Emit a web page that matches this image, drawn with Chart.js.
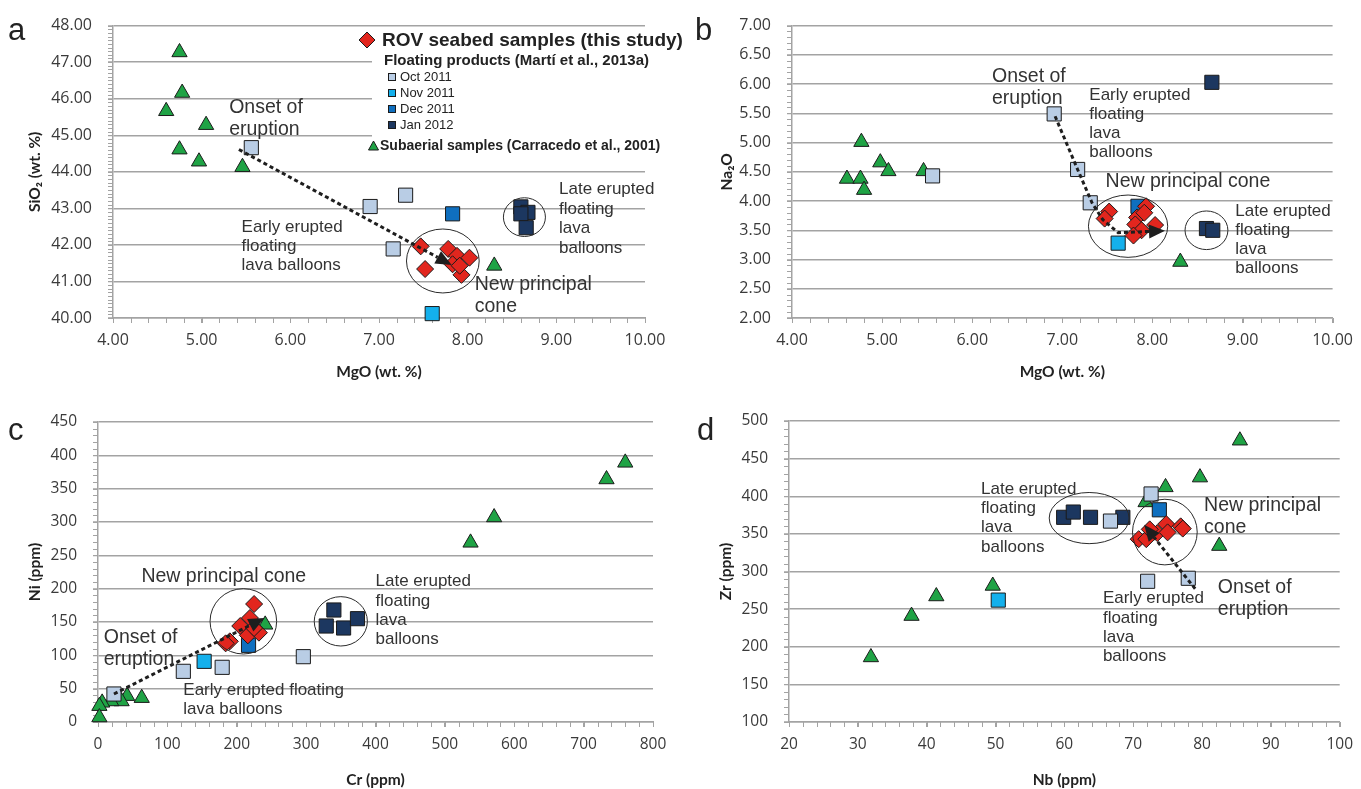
<!DOCTYPE html>
<html><head><meta charset="utf-8">
<script src="https://cdn.jsdelivr.net/npm/chart.js@4.4.1/dist/chart.umd.min.js"></script>
<style>
html,body{margin:0;padding:0;background:#fff;width:1361px;height:789px;overflow:hidden;}
.p{position:absolute;}
.p canvas{display:block;}
.letter{position:absolute;font-family:"Liberation Sans",Arial,sans-serif;font-size:31px;color:#222;line-height:1;}
</style></head><body>
<div class="p" style="left:0;top:0"><canvas id="ca" width="690" height="390"></canvas></div>
<div class="p" style="left:690px;top:0"><canvas id="cb" width="671" height="390"></canvas></div>
<div class="p" style="left:0;top:390px"><canvas id="cc" width="690" height="399"></canvas></div>
<div class="p" style="left:690px;top:390px"><canvas id="cd" width="671" height="399"></canvas></div>
<div class="letter" style="left:8px;top:14px">a</div>
<div class="letter" style="left:695px;top:14px">b</div>
<div class="letter" style="left:8px;top:414px">c</div>
<div class="letter" style="left:697px;top:414px">d</div>
<script>
// ---------- DATA ----------
// Series names
const seriesNames = ['ROV seabed samples (this study)','Oct 2011','Nov 2011','Dec 2011','Jan 2012','Subaerial samples (Carracedo et al., 2001)'];

// Panel a : MgO (x) vs SiO2 (y)
const aRovX = [7.47,7.52,7.78,7.88,7.83,8.02,7.93,7.91];
const aRovY = [41.96,41.34,41.89,41.70,41.47,41.65,41.18,41.43];
const aOctX = [5.56,6.90,7.30,7.16];
const aOctY = [44.66,43.05,43.36,41.89];
const aNovX = [7.60];
const aNovY = [40.12];
const aDecX = [7.83];
const aDecY = [42.85];
const aJanX = [8.60,8.68,8.60,8.66];
const aJanY = [43.04,42.89,42.85,42.47];
const aSubX = [4.75,4.78,4.60,5.05,4.75,4.97,5.46,8.30];
const aSubY = [47.27,46.16,45.66,45.28,44.61,44.28,44.13,41.43];
const aXTicks = [4,5,6,7,8,9,10];
const aYTicks = [40,41,42,43,44,45,46,47,48];

// Panel b : MgO (x) vs Na2O (y)
const bRovX = [7.52,7.47,7.93,7.83,7.81,7.88,7.79,8.03,7.91];
const bRovY = [3.82,3.70,3.91,3.72,3.60,3.50,3.41,3.59,3.80];
const bOctX = [5.56,6.91,7.17,7.31];
const bOctY = [4.43,5.49,4.54,3.97];
const bNovX = [7.62];
const bNovY = [3.28];
const bDecX = [7.84];
const bDecY = [3.91];
const bJanX = [8.66,8.60,8.67];
const bJanY = [6.03,3.53,3.50];
const bSubX = [4.77,4.98,5.07,4.61,4.76,4.80,5.46,8.31];
const bSubY = [5.01,4.66,4.51,4.38,4.38,4.19,4.51,2.96];
const bXTicks = [4,5,6,7,8,9,10];
const bYTicks = [2,2.5,3,3.5,4,4.5,5,5.5,6,6.5,7];

// Panel c : Cr (x) vs Ni (y)
const cRovX = [225,219,205,216,232,190,184,225];
const cRovY = [177,156,144,130,134,121,118,141];
const cOctX = [23,123,179,296];
const cOctY = [42,76,82,98];
const cNovX = [153];
const cNovY = [91];
const cDecX = [217];
const cDecY = [115];
const cJanX = [340,329,354,374];
const cJanY = [168,144,141,155];
const cSubX = [760,733,571,537,241,63,42,34,19,6,2,2];
const cSubY = [389,364,307,269,146,36,39,31,31,29,24,7];
const cXTicks = [0,100,200,300,400,500,600,700,800];
const cYTicks = [0,50,100,150,200,250,300,350,400,450];

// Panel d : Nb (x) vs Zr (y)
const dRovX = [70.8,71.9,73.5,74.8,76.9,77.2,75.0,72.4];
const dRovY = [343,343,351,363,360,357,352,356];
const dOctX = [72.6,66.7,72.1,78.0];
const dOctY = [403,367,287,291];
const dNovX = [50.4];
const dNovY = [262];
const dDecX = [73.8];
const dDecY = [382];
const dJanX = [59.9,61.3,63.8,68.5];
const dJanY = [372,379,372,372];
const dSubX = [85.5,79.7,74.7,71.8,82.5,49.6,41.4,37.8,31.9];
const dSubY = [474,425,412,392,334,281,267,241,186];
const dXTicks = [20,30,40,50,60,70,80,90,100];
const dYTicks = [100,150,200,250,300,350,400,450,500];

// Trend arrows (data coordinates) and grouping ellipses [cx, cy, rx, ry]
const aArrow = [[5.42,44.61],[7.82,41.45]];
const bArrow = [[6.92,5.45],[7.17,4.54],[7.33,3.97],[7.45,3.68],[7.62,3.46],[8.14,3.49]];
const cArrow = [[23,42],[240,156]];
const dArrow = [[79.0,277],[71.6,362]];
const aEllipses = [[7.72,41.56,0.41,0.875],[8.64,42.76,0.237,0.53]];
const bEllipses = [[7.73,3.57,0.44,0.533],[8.60,3.50,0.238,0.33]];
const cEllipses = [[209.5,151,48,49],[350,151,38.3,37]];
const dEllipses = [[63.6,371,5.8,34],[74.6,352.4,4.7,43.6]];

// ---------- STYLE ----------
const RED='#e2261e', GREEN='#1fa345', OCT='#b9cde5', NOV='#14b0ec', DEC='#0f6fbf', JAN='#1c3760', EDGE='#1b1b1b';
const GRID='#a3a3a3', TICKC='#3a3a3a', TEXTC='#333333';
const SANS='"Liberation Sans", Arial, sans-serif';

function ds(label, xs, ys, style, color, r, order){
  return {label, data: xs.map((x,i)=>({x, y: ys[i]})), pointStyle: style,
    backgroundColor: color, borderColor: EDGE, borderWidth: 1, pointRadius: r,
    pointHoverRadius: r, order, clip: false};
}
function sets(rx,ry,ox,oy,nx,ny,dx,dy,jx,jy,sx,sy){
  return [
    ds(seriesNames[0], rx, ry, 'rectRot', RED, 8.5, 0),
    ds(seriesNames[1], ox, oy, 'rect', OCT, 10, 1),
    ds(seriesNames[2], nx, ny, 'rect', NOV, 10, 1),
    ds(seriesNames[3], dx, dy, 'rect', DEC, 10, 1),
    ds(seriesNames[4], jx, jy, 'rect', JAN, 10, 1),
    ds(seriesNames[5], sx, sy, 'triangle', GREEN, 8.8, 2)
  ];
}

function drawLegendA(ctx){
  ctx.fillStyle='#fff';
  ctx.fillRect(353,27,337,31);
  ctx.fillRect(372,58,318,98);
  // diamond
  ctx.beginPath(); ctx.moveTo(367,32); ctx.lineTo(375,40); ctx.lineTo(367,48); ctx.lineTo(359,40); ctx.closePath();
  ctx.fillStyle=RED; ctx.fill(); ctx.strokeStyle=EDGE; ctx.lineWidth=1; ctx.stroke();
  ctx.fillStyle='#222'; ctx.textBaseline='middle'; ctx.textAlign='left';
  ctx.font='bold 19px '+SANS; ctx.fillText(seriesNames[0], 382, 41);
  ctx.font='bold 15px '+SANS; ctx.fillText('Floating products (Martí et al., 2013a)', 384, 61);
  const items=[[OCT,76.5],[NOV,92.5],[DEC,108.5],[JAN,124.5]];
  ctx.font='13px '+SANS;
  items.forEach((it,i)=>{
    ctx.fillStyle=it[0]; ctx.fillRect(388.5,it[1]-3,7,7);
    ctx.strokeStyle=EDGE; ctx.strokeRect(388.5,it[1]-3,7,7);
    ctx.fillStyle='#222'; ctx.fillText(seriesNames[i+1], 400, it[1]+0.5);
  });
  // triangle
  ctx.beginPath(); ctx.moveTo(373.5,141); ctx.lineTo(378.5,150); ctx.lineTo(368.5,150); ctx.closePath();
  ctx.fillStyle=GREEN; ctx.fill(); ctx.strokeStyle=EDGE; ctx.stroke();
  ctx.fillStyle='#222'; ctx.font='bold 14px '+SANS; ctx.fillText(seriesNames[5], 380, 146);
}

const decor = {
  id:'decor',
  beforeDatasetsDraw(chart, args, o){
    const ctx=chart.ctx, xs=chart.scales.x, ys=chart.scales.y;
    ctx.save();
    ctx.strokeStyle=GRID; ctx.lineWidth=1;
    const nx=Math.round((xs.max-xs.min)/o.minorX);
    for(let i=0;i<=nx;i++){
      const x=Math.round(xs.getPixelForValue(xs.min+i*o.minorX))+0.5;
      ctx.beginPath(); ctx.moveTo(x, ys.bottom); ctx.lineTo(x, ys.bottom+5); ctx.stroke();
    }
    const ny=Math.round((ys.max-ys.min)/o.minorY);
    for(let i=0;i<=ny;i++){
      const y=Math.round(ys.getPixelForValue(ys.min+i*o.minorY))+0.5;
      ctx.beginPath(); ctx.moveTo(xs.left-5, y); ctx.lineTo(xs.left, y); ctx.stroke();
    }
    ctx.restore();
  },
  afterDatasetsDraw(chart, args, o){
    const ctx=chart.ctx, xs=chart.scales.x, ys=chart.scales.y;
    const px=v=>xs.getPixelForValue(v), py=v=>ys.getPixelForValue(v);
    ctx.save();
    // ellipses
    ctx.strokeStyle='#2a2a2a'; ctx.lineWidth=1;
    (o.ellipses||[]).forEach(e=>{
      const cx=px(e[0]), cy=py(e[1]);
      const rx=Math.abs(px(e[0]+e[2])-cx), ry=Math.abs(py(e[1]+e[3])-cy);
      ctx.beginPath(); ctx.ellipse(cx,cy,rx,ry,0,0,Math.PI*2); ctx.stroke();
    });
    // arrow
    if(o.arrow){
      const pts=o.arrow.map(p=>[px(p[0]),py(p[1])]);
      const n=pts.length, tip=pts[n-1], prev=pts[n-2];
      const ang=Math.atan2(tip[1]-prev[1], tip[0]-prev[0]);
      const L=16, W=7;
      const base=[tip[0]-L*Math.cos(ang), tip[1]-L*Math.sin(ang)];
      ctx.strokeStyle='#1e1e1e'; ctx.lineWidth=3; ctx.setLineDash([4,3]);
      ctx.beginPath(); ctx.moveTo(pts[0][0],pts[0][1]);
      for(let i=1;i<n-1;i++) ctx.lineTo(pts[i][0],pts[i][1]);
      ctx.lineTo(base[0],base[1]); ctx.stroke();
      ctx.setLineDash([]);
      ctx.fillStyle='#1e1e1e';
      ctx.beginPath(); ctx.moveTo(tip[0],tip[1]);
      ctx.lineTo(base[0]+W*Math.sin(ang), base[1]-W*Math.cos(ang));
      ctx.lineTo(base[0]-W*Math.sin(ang), base[1]+W*Math.cos(ang));
      ctx.closePath(); ctx.fill();
    }
    // notes
    ctx.fillStyle=TEXTC; ctx.textAlign='left'; ctx.textBaseline='middle';
    (o.notes||[]).forEach(nt=>{
      ctx.font=nt.size+'px '+SANS;
      nt.lines.forEach((t,i)=>ctx.fillText(t, px(nt.x), py(nt.y)+i*(nt.lh||0)));
    });
    if(o.legend) drawLegendA(ctx);
    ctx.restore();
  }
};

function makeChart(id, c){
  const tickFont={family:'"Open Sans", Lato, sans-serif', size:c.tickSize};
  const titleFont={family:'Lato, "Open Sans", sans-serif', size:15.5, weight:'bold'};
  return new Chart(document.getElementById(id), {
    type:'scatter',
    data:{datasets:c.datasets},
    options:{
      responsive:false, animation:false, devicePixelRatio:1, events:[],
      layout:{padding:c.pad},
      plugins:{legend:{display:false}, tooltip:{enabled:false}, decor:c.decor},
      scales:{
        x:{type:'linear', min:c.xTicks[0], max:c.xTicks[c.xTicks.length-1],
          afterBuildTicks:s=>{s.ticks=c.xTicks.map(v=>({value:v}));},
          afterFit:s=>{s.height=c.xH;},
          ticks:{callback:c.fmt, font:tickFont, color:TICKC, padding:8, maxRotation:0, autoSkip:false},
          grid:{drawOnChartArea:false, drawTicks:true, tickLength:5, tickColor:GRID, tickWidth:1},
          border:{display:true, color:GRID, width:1.5},
          title:{display:true, text:c.xTitle, font:titleFont, color:'#222', padding:{top:0,bottom:c.xTitlePad}}},
        y:{type:'linear', min:c.yTicks[0], max:c.yTicks[c.yTicks.length-1],
          afterBuildTicks:s=>{s.ticks=c.yTicks.map(v=>({value:v}));},
          afterFit:s=>{s.width=c.yW;},
          ticks:{callback:c.fmt, font:tickFont, color:TICKC, padding:16, autoSkip:false},
          grid:{color:GRID, lineWidth:1.5, drawTicks:true, tickLength:5, tickColor:GRID, tickWidth:1},
          border:{display:true, color:GRID, width:1.5},
          title:{display:true, text:c.yTitle, font:titleFont, color:'#222', padding:{top:c.yTitlePad,bottom:0}}}
      }
    },
    plugins:[decor]
  });
}
const fmt2=v=>Number(v).toFixed(2), fmt0=v=>String(v);

makeChart('ca',{
  datasets:sets(aRovX,aRovY,aOctX,aOctY,aNovX,aNovY,aDecX,aDecY,aJanX,aJanY,aSubX,aSubY),
  xTicks:aXTicks, yTicks:aYTicks, fmt:fmt2, tickSize:16, xTitle:'MgO (wt. %)', yTitle:'SiO₂ (wt. %)',
  pad:{top:16,right:45,bottom:0,left:0}, yW:113, xH:72, xTitlePad:9, yTitlePad:26,
  decor:{minorX:0.2, minorY:0.1, arrow:aArrow, ellipses:aEllipses, legend:true, notes:[
    {x:5.31,y:45.76,lines:['Onset of','eruption'],size:19.5,lh:21.7},
    {x:5.45,y:42.49,lines:['Early erupted','floating','lava balloons'],size:17,lh:19},
    {x:8.08,y:40.90,lines:['New principal','cone'],size:19.5,lh:21.7},
    {x:9.03,y:43.51,lines:['Late erupted','floating','lava','balloons'],size:17,lh:19.4}]}
});
makeChart('cb',{
  datasets:sets(bRovX,bRovY,bOctX,bOctY,bNovX,bNovY,bDecX,bDecY,bJanX,bJanY,bSubX,bSubY),
  xTicks:bXTicks, yTicks:bYTicks, fmt:fmt2, tickSize:16, xTitle:'MgO (wt. %)', yTitle:'Na₂O',
  pad:{top:16,right:25,bottom:0,left:0}, yW:102, xH:72, xTitlePad:9, yTitlePad:28,
  decor:{minorX:0.2, minorY:0.1, arrow:bArrow, ellipses:bEllipses, notes:[
    {x:6.22,y:6.13,lines:['Onset of','eruption'],size:19.5,lh:22},
    {x:7.30,y:5.80,lines:['Early erupted','floating','lava','balloons'],size:17,lh:19},
    {x:7.48,y:4.33,lines:['New principal cone'],size:19.5},
    {x:8.92,y:3.82,lines:['Late erupted','floating','lava','balloons'],size:17,lh:19}]}
});
makeChart('cc',{
  datasets:sets(cRovX,cRovY,cOctX,cOctY,cNovX,cNovY,cDecX,cDecY,cJanX,cJanY,cSubX,cSubY),
  xTicks:cXTicks, yTicks:cYTicks, fmt:fmt0, tickSize:15.5, xTitle:'Cr (ppm)', yTitle:'Ni (ppm)',
  pad:{top:32,right:37,bottom:0,left:0}, yW:98, xH:67, xTitlePad:0, yTitlePad:26,
  decor:{minorX:20, minorY:10, arrow:cArrow, ellipses:cEllipses, notes:[
    {x:62.6,y:218,lines:['New principal cone'],size:19.5},
    {x:400,y:210.6,lines:['Late erupted','floating','lava','balloons'],size:17,lh:19.4},
    {x:8.3,y:126.4,lines:['Onset of','eruption'],size:19.5,lh:21.8},
    {x:123,y:48,lines:['Early erupted floating','lava balloons'],size:17,lh:19}]}
});
makeChart('cd',{
  datasets:sets(dRovX,dRovY,dOctX,dOctY,dNovX,dNovY,dDecX,dDecY,dJanX,dJanY,dSubX,dSubY),
  xTicks:dXTicks, yTicks:dYTicks, fmt:fmt0, tickSize:15.5, xTitle:'Nb (ppm)', yTitle:'Zr (ppm)',
  pad:{top:31,right:20,bottom:0,left:0}, yW:99, xH:67, xTitlePad:0, yTitlePad:27,
  decor:{minorX:2, minorY:10, arrow:dArrow, ellipses:dEllipses, notes:[
    {x:47.9,y:409.7,lines:['Late erupted','floating','lava','balloons'],size:17,lh:19.4},
    {x:80.3,y:387,lines:['New principal','cone'],size:19.5,lh:21.7},
    {x:82.3,y:278.4,lines:['Onset of','eruption'],size:19.5,lh:21.7},
    {x:65.6,y:264,lines:['Early erupted','floating','lava','balloons'],size:17,lh:19.4}]}
});
</script>
</body></html>
